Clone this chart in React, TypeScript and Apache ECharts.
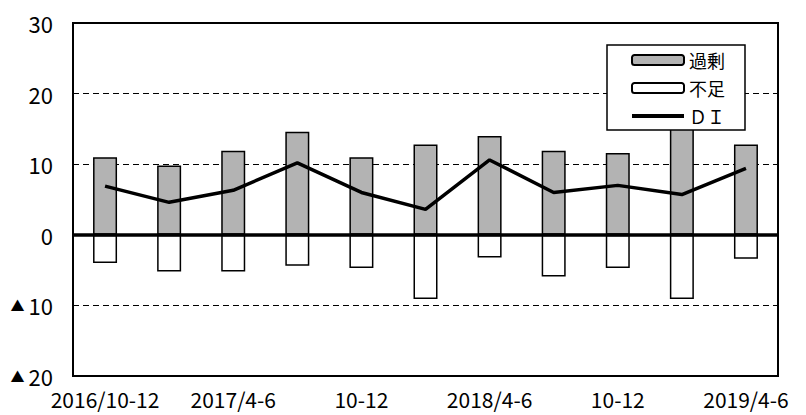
import React, { useEffect, useRef } from "react";
import * as echarts from "echarts";

const categories = [
  "2016/10-12", "2017/1-3", "2017/4-6", "7-9", "10-12",
  "2018/1-3", "2018/4-6", "7-9", "10-12", "2019/1-3", "2019/4-6",
];
const surplus = [11.0, 9.8, 11.9, 14.6, 11.0, 12.8, 14.0, 11.9, 11.6, 15.2, 12.8];
const shortage = [-4.0, -5.2, -5.2, -4.4, -4.7, -9.1, -3.2, -5.9, -4.7, -9.1, -3.4];
const di = [6.9, 4.6, 6.3, 10.2, 6.0, 3.6, 10.6, 6.0, 7.0, 5.7, 9.4];
const seriesNames = ["過剰", "不足", "ＤＩ"];

const FONT = "'Noto Sans CJK JP', 'Noto Sans', sans-serif";

export default function App() {
  const ref = useRef<HTMLDivElement>(null);
  useEffect(() => {
    if (!ref.current) return;
    const chart = echarts.init(ref.current, null, { renderer: "svg" });
    chart.setOption({
      animation: false,
      backgroundColor: "#ffffff",
      textStyle: { fontFamily: FONT, color: "#000" },
      grid: {
        left: 73,
        right: 28,
        top: 23,
        bottom: 39,
        show: true,
        borderColor: "#000",
        borderWidth: 2,
        backgroundColor: "transparent",
      },
      legend: {
        orient: "vertical",
        left: 607,
        top: 45,
        width: 139,
        padding: [6, 20, 5, 23],
        itemWidth: 52,
        itemHeight: 10,
        itemGap: 10,
        backgroundColor: "#fff",
        borderColor: "#000",
        borderWidth: 1.5,
        textStyle: { fontSize: 18, color: "#000", fontFamily: FONT },
        data: [
          { name: seriesNames[0] },
          { name: seriesNames[1] },
          {
            name: seriesNames[2],
            itemStyle: { opacity: 0, color: "rgba(0,0,0,0)", borderWidth: 0 },
            lineStyle: { width: 4, color: "#000" },
          },
        ],
        z: 10,
      },
      xAxis: {
        type: "category",
        data: categories,
        boundaryGap: true,
        axisLine: { show: false, onZero: false },
        axisTick: { show: false },
        axisLabel: {
          interval: 1,
          fontSize: 21,
          lineHeight: 20,
          color: "#000",
          margin: 13,
          fontFamily: FONT,
        },
        splitLine: { show: false },
      },
      yAxis: {
        type: "value",
        min: -20,
        max: 30,
        interval: 10,
        axisLine: { show: false },
        axisTick: { show: false },
        axisLabel: {
          fontSize: 22,
          color: "#000",
          margin: 20,
          fontFamily: FONT,
          formatter: (v: number) => (v < 0 ? "{t|▲}{n|" + -v + "}" : "{n|" + v + "}"),
          rich: {
            t: { fontSize: 14, fontFamily: FONT, color: "#000", padding: [0, 4, 0, 0] },
            n: { fontSize: 22, fontFamily: FONT, color: "#000" },
          },
        },
        splitLine: {
          show: true,
          lineStyle: { color: "#000", type: [6, 4], width: 1.2 },
        },
      },
      series: [
        {
          name: seriesNames[0],
          type: "bar",
          stack: "s",
          data: surplus,
          barWidth: 24,
          itemStyle: { color: "#b3b3b3", borderColor: "#000", borderWidth: 1.5 },
        },
        {
          name: seriesNames[1],
          type: "bar",
          stack: "s",
          data: shortage,
          barWidth: 24,
          itemStyle: { color: "#ffffff", borderColor: "#000", borderWidth: 1.5 },
        },
        {
          name: seriesNames[2],
          type: "line",
          data: di,
          symbol: "none",
          lineStyle: { color: "#000", width: 3.5 },
          itemStyle: { color: "#000" },
          z: 5,
          markLine: {
            silent: true,
            symbol: "none",
            label: { show: false },
            lineStyle: { color: "#000", width: 3.5, type: "solid" },
            data: [{ yAxis: 0 }],
          },
        },
      ],
    });
    return () => chart.dispose();
  }, []);
  return (
    <div
      ref={ref}
      style={{ position: "fixed", left: 0, top: 0, width: 806, height: 415 }}
    />
  );
}
